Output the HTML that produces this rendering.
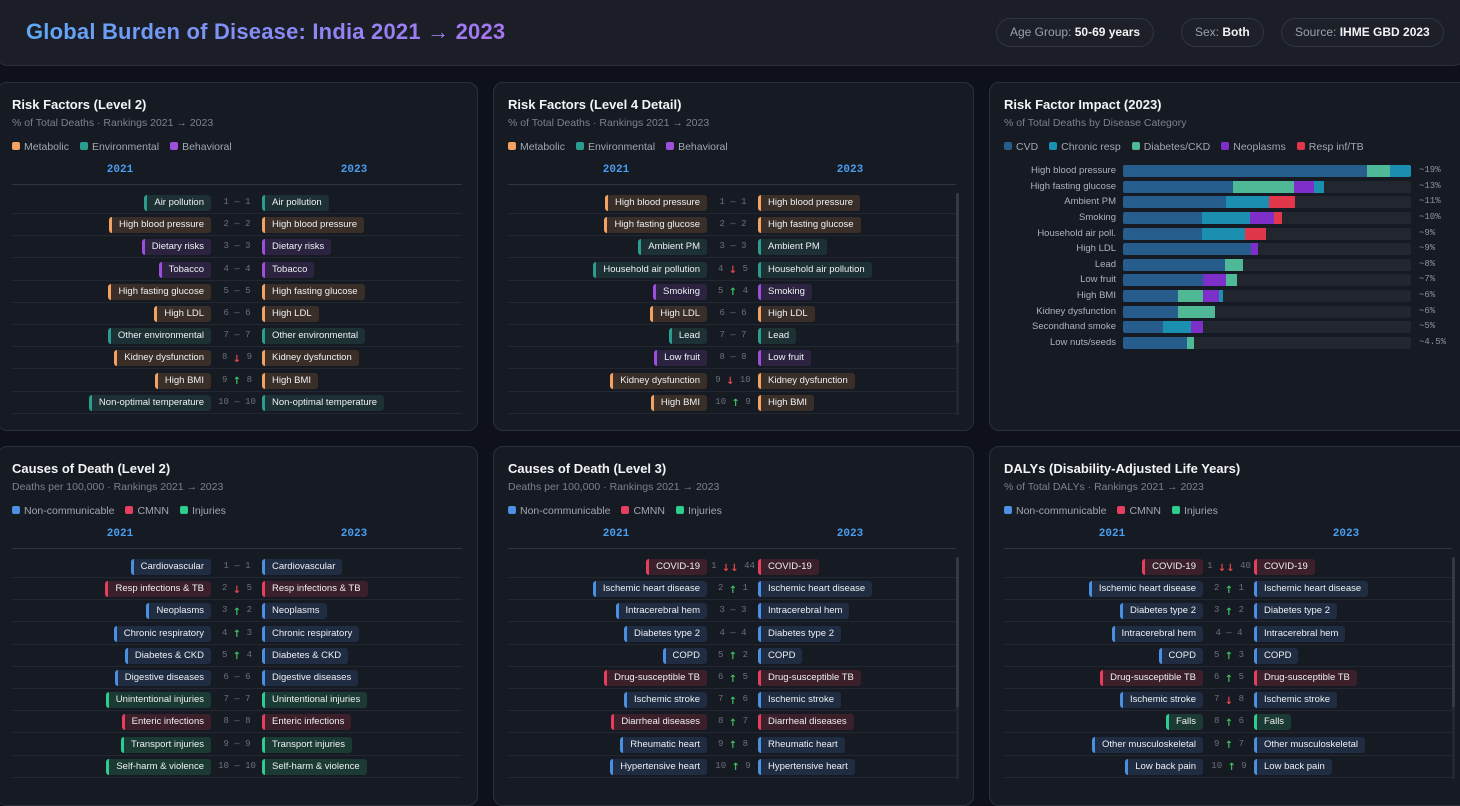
<!DOCTYPE html>
<html><head><meta charset="utf-8">
<style>
*{box-sizing:border-box;margin:0;padding:0}
body{width:1460px;height:795px;overflow:hidden;background:#0e1119;font-family:"Liberation Sans",sans-serif;color:#e6e8ee;position:relative}
.hdr{position:absolute;left:-4px;top:-4px;width:1470px;height:70px;background:#1b1e26;border:1px solid #2a2e38;border-radius:12px}
.title{position:absolute;left:26px;top:19px;font-size:22px;font-weight:bold;background:linear-gradient(90deg,#5ea8f6,#8f86f5 60%,#a576ef);-webkit-background-clip:text;background-clip:text;color:transparent;letter-spacing:0.2px}
.pill{position:absolute;top:18px;height:29px;border:1px solid #30343e;border-radius:15px;font-size:12px;color:#9aa0ab;line-height:27px;padding:0 13px;background:#1d2029}
.pill b{color:#f2f3f5}
.panel{position:absolute;width:481px;background:#161a22;border:1px solid #2b2f39;border-radius:10px;overflow:hidden}
.pt{position:absolute;left:14px;top:14px;font-size:13px;font-weight:bold;color:#f3f4f6}
.ps{position:absolute;left:14px;top:34px;font-size:10.5px;color:#7c818c}
.lg{position:absolute;left:14px;top:58px;font-size:10.5px;color:#a1a6b0;white-space:nowrap}
.lg span{display:inline-block;margin-right:11px}
.lg i{display:inline-block;width:8px;height:8px;border-radius:2px;margin-right:4px;vertical-align:-0px}
.yh{position:absolute;top:81px;font-family:"Liberation Mono",monospace;font-weight:bold;font-size:11px;color:#4a9ef0;transform:translateX(-50%)}
.hl{position:absolute;left:14px;top:101px;height:1px;background:#30343e}
.row{position:absolute;left:14px;height:22px;border-bottom:1px solid #232732}
.chip{position:absolute;top:3px;height:16px;line-height:16px;font-size:9.5px;color:#eef0f3;padding:0 7px 0 7px;border-left:3px solid;border-radius:3px;white-space:nowrap}
.rk{position:absolute;top:0;height:21px;line-height:21px;font-family:"Liberation Mono",monospace;font-size:9px;color:#6b707b;width:60px;text-align:center;white-space:nowrap}
.up,.dn{font-family:"DejaVu Sans",sans-serif;font-size:10px;font-weight:bold;line-height:10px;display:inline-block;vertical-align:middle;position:relative;top:3px}
.up{color:#3fbf5f}.dn{color:#e5484d}
.sb{position:absolute;width:3px;border-radius:2px;background:#232730}
.sbt{position:absolute;width:3px;border-radius:2px;background:#343944}
.bl{position:absolute;font-size:9.5px;color:#aeb3bc;text-align:right;width:120px;white-space:nowrap}
.tr{position:absolute;height:12px;background:#22262f;border-radius:2px;overflow:hidden;display:flex}
.tr div{height:12px}
.bv{position:absolute;font-family:"Liberation Mono",monospace;font-size:9px;color:#8d929c}
</style></head><body>
<div class="hdr"></div>
<div class="title">Global Burden of Disease: India 2021 → 2023</div>
<div class="pill" style="left:996px">Age Group: <b>50-69 years</b></div>
<div class="pill" style="left:1181px">Sex: <b>Both</b></div>
<div class="pill" style="left:1281px">Source: <b>IHME GBD 2023</b></div>
<div id="root"></div>
<script>
const C={M:['#f4a261','#3a2e29'],E:['#2a9d8f','#1d3034'],B:['#9d4edd','#2c2340'],N:['#4a90e2','#1f2c42'],C:['#e63e5c','#3b1f2a'],I:['#2ecc8f','#1b3a33']};
const root=document.getElementById('root');
function panel(x,y,h,title,sub,legend){
 const p=document.createElement('div');p.className='panel';p.style.left=x+'px';p.style.top=y+'px';p.style.height=h+'px';
 p.innerHTML=`<div class="pt">${title}</div><div class="ps">${sub}</div><div class="lg">${legend.map(l=>`<span><i style="background:${l[1]}"></i>${l[0]}</span>`).join('')}</div>`;
 root.appendChild(p);return p;}
const LRF=[['Metabolic','#f4a261'],['Environmental','#2a9d8f'],['Behavioral','#9d4edd']];
const LC=[['Non-communicable','#4a90e2'],['CMNN','#e63e5c'],['Injuries','#2ecc8f']];
function rank(p,rows,w,scroll){
 p.insertAdjacentHTML('beforeend',`<div class="yh" style="left:122px">2021</div><div class="yh" style="left:356px">2023</div><div class="hl" style="width:${w}px"></div>`);
 rows.forEach((r,i)=>{
  const [n,c,a,b]=r;const col=C[c];
  let mid=a===b?'—':(b<a?'<span class="up">↑</span>':(b-a>5?'<span class="dn">↓↓</span>':'<span class="dn">↓</span>'));
  const top=109+i*22.2;
  p.insertAdjacentHTML('beforeend',`<div class="row" style="top:${top}px;width:${w}px">
  <div class="chip" style="right:${w-199}px;border-color:${col[0]};background:${col[1]}">${n}</div>
  <div class="rk" style="left:195px">${a} ${mid} ${b}</div>
  <div class="chip" style="left:250px;border-color:${col[0]};background:${col[1]}">${n}</div></div>`);
 });
 if(scroll){p.insertAdjacentHTML('beforeend',`<div class="sb" style="left:462px;top:110px;height:222px"></div><div class="sbt" style="left:462px;top:110px;height:150px"></div>`);}
}
let p=panel(-3,82,349,'Risk Factors (Level 2)','% of Total Deaths · Rankings 2021 → 2023',LRF);
rank(p,[['Air pollution','E',1,1],['High blood pressure','M',2,2],['Dietary risks','B',3,3],['Tobacco','B',4,4],['High fasting glucose','M',5,5],['High LDL','M',6,6],['Other environmental','E',7,7],['Kidney dysfunction','M',8,9],['High BMI','M',9,8],['Non-optimal temperature','E',10,10]],450,false);
p=panel(493,82,349,'Risk Factors (Level 4 Detail)','% of Total Deaths · Rankings 2021 → 2023',LRF);
rank(p,[['High blood pressure','M',1,1],['High fasting glucose','M',2,2],['Ambient PM','E',3,3],['Household air pollution','E',4,5],['Smoking','B',5,4],['High LDL','M',6,6],['Lead','E',7,7],['Low fruit','B',8,8],['Kidney dysfunction','M',9,10],['High BMI','M',10,9]],448,true);
p=panel(-3,446,360,'Causes of Death (Level 2)','Deaths per 100,000 · Rankings 2021 → 2023',LC);
rank(p,[['Cardiovascular','N',1,1],['Resp infections &amp; TB','C',2,5],['Neoplasms','N',3,2],['Chronic respiratory','N',4,3],['Diabetes &amp; CKD','N',5,4],['Digestive diseases','N',6,6],['Unintentional injuries','I',7,7],['Enteric infections','C',8,8],['Transport injuries','I',9,9],['Self-harm &amp; violence','I',10,10]],450,false);
p=panel(493,446,360,'Causes of Death (Level 3)','Deaths per 100,000 · Rankings 2021 → 2023',LC);
rank(p,[['COVID-19','C',1,44],['Ischemic heart disease','N',2,1],['Intracerebral hem','N',3,3],['Diabetes type 2','N',4,4],['COPD','N',5,2],['Drug-susceptible TB','C',6,5],['Ischemic stroke','N',7,6],['Diarrheal diseases','C',8,7],['Rheumatic heart','N',9,8],['Hypertensive heart','N',10,9]],448,true);
p=panel(989,446,360,'DALYs (Disability-Adjusted Life Years)','% of Total DALYs · Rankings 2021 → 2023',LC);
rank(p,[['COVID-19','C',1,40],['Ischemic heart disease','N',2,1],['Diabetes type 2','N',3,2],['Intracerebral hem','N',4,4],['COPD','N',5,3],['Drug-susceptible TB','C',6,5],['Ischemic stroke','N',7,8],['Falls','I',8,6],['Other musculoskeletal','N',9,7],['Low back pain','N',10,9]],448,true);
p=panel(989,82,349,'Risk Factor Impact (2023)','% of Total Deaths by Disease Category',[['CVD','#265d8c'],['Chronic resp','#1a8fb0'],['Diabetes/CKD','#4fb896'],['Neoplasms','#7e2fc9'],['Resp inf/TB','#e0384a']]);
const K={v:'#265d8c',c:'#1a8fb0',d:'#4fb896',n:'#7e2fc9',r:'#e0384a'};
const bars=[['High blood pressure',[['v',244],['d',23],['c',21]],'~19%'],['High fasting glucose',[['v',110],['d',61],['n',20],['c',10]],'~13%'],['Ambient PM',[['v',103],['c',43],['r',26]],'~11%'],['Smoking',[['v',79],['c',48],['n',24],['r',8]],'~10%'],['Household air poll.',[['v',79],['c',43],['r',21]],'~9%'],['High LDL',[['v',128],['n',7]],'~9%'],['Lead',[['v',102],['d',18]],'~8%'],['Low fruit',[['v',80],['n',23],['d',11]],'~7%'],['High BMI',[['v',55],['d',25],['n',16],['c',4]],'~6%'],['Kidney dysfunction',[['v',55],['d',37]],'~6%'],['Secondhand smoke',[['v',40],['c',28],['n',12]],'~5%'],['Low nuts/seeds',[['v',64],['d',7]],'~4.5%']];
bars.forEach((b,i)=>{const cy=88+i*15.64;
 p.insertAdjacentHTML('beforeend',`<div class="bl" style="left:6px;top:${cy-6}px">${b[0]}</div><div class="tr" style="left:133px;top:${cy-6}px;width:288px">${b[1].map(s=>`<div style="width:${s[1]}px;background:${K[s[0]]}"></div>`).join('')}</div><div class="bv" style="left:429px;top:${cy-6}px">${b[2]}</div>`);});
</script>
</body></html>
